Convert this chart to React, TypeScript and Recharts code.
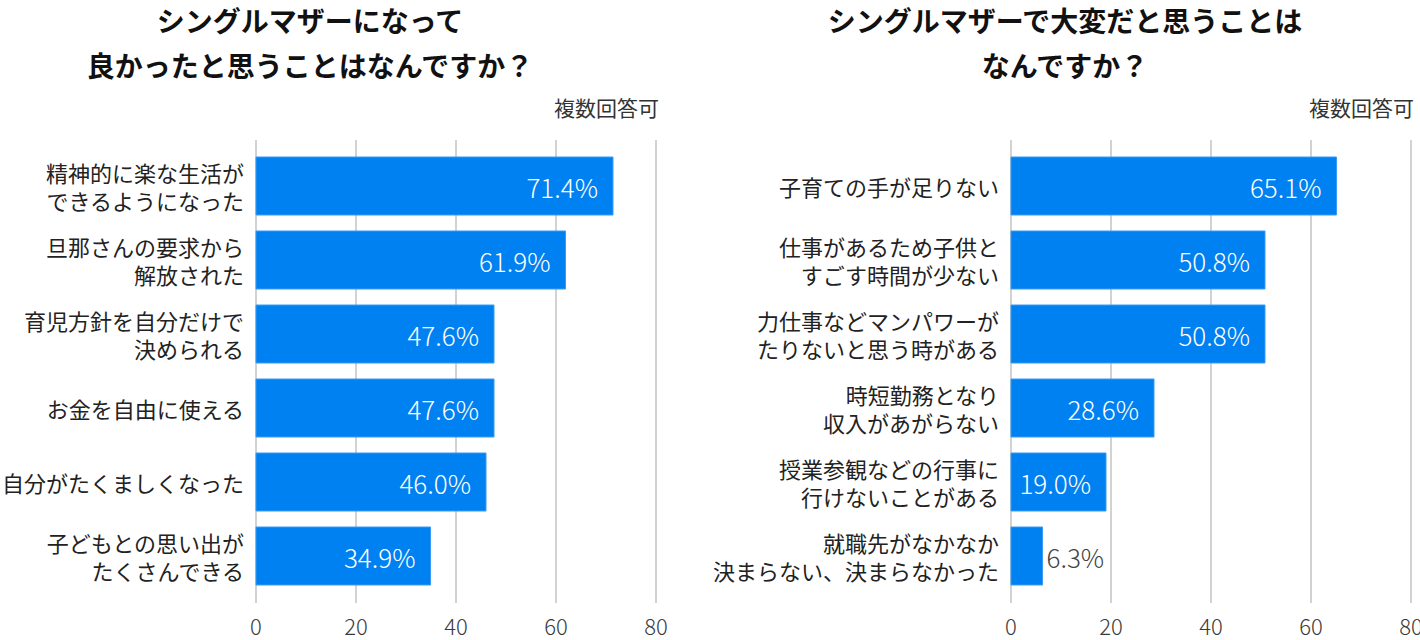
import { BarChart, Bar, XAxis, YAxis, CartesianGrid, LabelList } from 'recharts';

const goodLabels = [
  '精神的に楽な生活が\nできるようになった',
  '旦那さんの要求から\n解放された',
  '育児方針を自分だけで\n決められる',
  'お金を自由に使える',
  '自分がたくましくなった',
  '子どもとの思い出が\nたくさんできる',
];
const goodValues = [71.4, 61.9, 47.6, 47.6, 46.0, 34.9];

const hardLabels = [
  '子育ての手が足りない',
  '仕事があるため子供と\nすごす時間が少ない',
  '力仕事などマンパワーが\nたりないと思う時がある',
  '時短勤務となり\n収入があがらない',
  '授業参観などの行事に\n行けないことがある',
  '就職先がなかなか\n決まらない、決まらなかった',
];
const hardValues = [65.1, 50.8, 50.8, 28.6, 19.0, 6.3];

const xTicks = [0, 20, 40, 60, 80];

const FONT = '"Noto Sans CJK JP", "Noto Sans", sans-serif';
const BLUE = '#0081f1';

function CategoryTick(props: any) {
  const { x, y, payload } = props;
  const lines = String(payload.value).split('\n');
  const lh = 28;
  return (
    <text x={x} y={y} textAnchor="end" fill="#222" fontSize={22} fontFamily={FONT}>
      {lines.map((l, i) => (
        <tspan key={i} x={x} y={y - ((lines.length - 1) * lh) / 2 + i * lh} dominantBaseline="central">
          {l}
        </tspan>
      ))}
    </text>
  );
}

function ValueTick(props: any) {
  const { x, y, payload } = props;
  return (
    <text x={x} y={y + 22} textAnchor="middle" dominantBaseline="central" fill="#3a3a3a" fontSize={22} fontWeight={300} fontFamily={FONT}>
      {payload.value}
    </text>
  );
}

function BarValue(props: any) {
  const { x, y, width, height, value } = props;
  const inside = width > 60;
  const label = `${Number(value).toFixed(1)}%`;
  return (
    <text
      x={inside ? x + width - 15 : x + width + 4}
      y={y + height / 2}
      textAnchor={inside ? 'end' : 'start'}
      dominantBaseline="central"
      fill={inside ? '#fff' : '#444'}
      fontSize={26}
      fontWeight={300}
      fontFamily={FONT}
    >
      {label}
    </text>
  );
}

function Panel({ labels, values, axisWidth, width }: { labels: string[]; values: number[]; axisWidth: number; width: number }) {
  const data = labels.map((label, i) => ({ label, value: values[i] }));
  return (
    <BarChart
      width={width}
      height={640}
      data={data}
      layout="vertical"
      margin={{ top: 140, right: width - axisWidth - 400, bottom: 0, left: 0 }}
    >
      <CartesianGrid horizontal={false} stroke="#d2d2d2" strokeWidth={2} />
      <XAxis
        type="number"
        domain={[0, 80]}
        ticks={xTicks}
        axisLine={false}
        tickLine={false}
        tickSize={0}
        tickMargin={0}
        height={37}
        tick={<ValueTick />}
        interval={0}
      />
      <YAxis
        type="category"
        dataKey="label"
        width={axisWidth}
        axisLine={false}
        tickLine={false}
        tickSize={0}
        tickMargin={12}
        padding={{ top: 9, bottom: 10 }}
        tick={<CategoryTick />}
        interval={0}
      />
      <Bar dataKey="value" fill={BLUE} stroke="#3a9af5" strokeWidth={1} barSize={58} isAnimationActive={false}>
        <LabelList dataKey="value" content={<BarValue />} />
      </Bar>
    </BarChart>
  );
}

const titleStyle: React.CSSProperties = {
  position: 'absolute',
  top: -2,
  textAlign: 'center',
  fontFamily: FONT,
  fontWeight: 700,
  fontSize: 28,
  lineHeight: '45px',
  color: '#111',
};

const noteStyle: React.CSSProperties = {
  position: 'absolute',
  top: 94,
  fontFamily: FONT,
  fontSize: 21,
  lineHeight: '26px',
  color: '#333',
  textAlign: 'right',
};

export default function App() {
  return (
    <div style={{ position: 'absolute', left: 0, top: 0, width: 1420, height: 640, background: '#fff' }}>
      <style>{'body{margin:0;}'}</style>
      <div style={{ position: 'absolute', left: 0, top: 0 }}>
        <Panel labels={goodLabels} values={goodValues} axisWidth={256} width={690} />
      </div>
      <div style={{ position: 'absolute', left: 690, top: 0 }}>
        <Panel labels={hardLabels} values={hardValues} axisWidth={321} width={730} />
      </div>
      <div style={{ ...titleStyle, left: 0, width: 620 }}>
        シングルマザーになって
        <br />
        良かったと思うことはなんですか？
      </div>
      <div style={{ ...titleStyle, left: 710, width: 710 }}>
        シングルマザーで大変だと思うことは
        <br />
        なんですか？
      </div>
      <div style={{ ...noteStyle, left: 459, width: 200 }}>複数回答可</div>
      <div style={{ ...noteStyle, left: 1214, width: 200 }}>複数回答可</div>
    </div>
  );
}
